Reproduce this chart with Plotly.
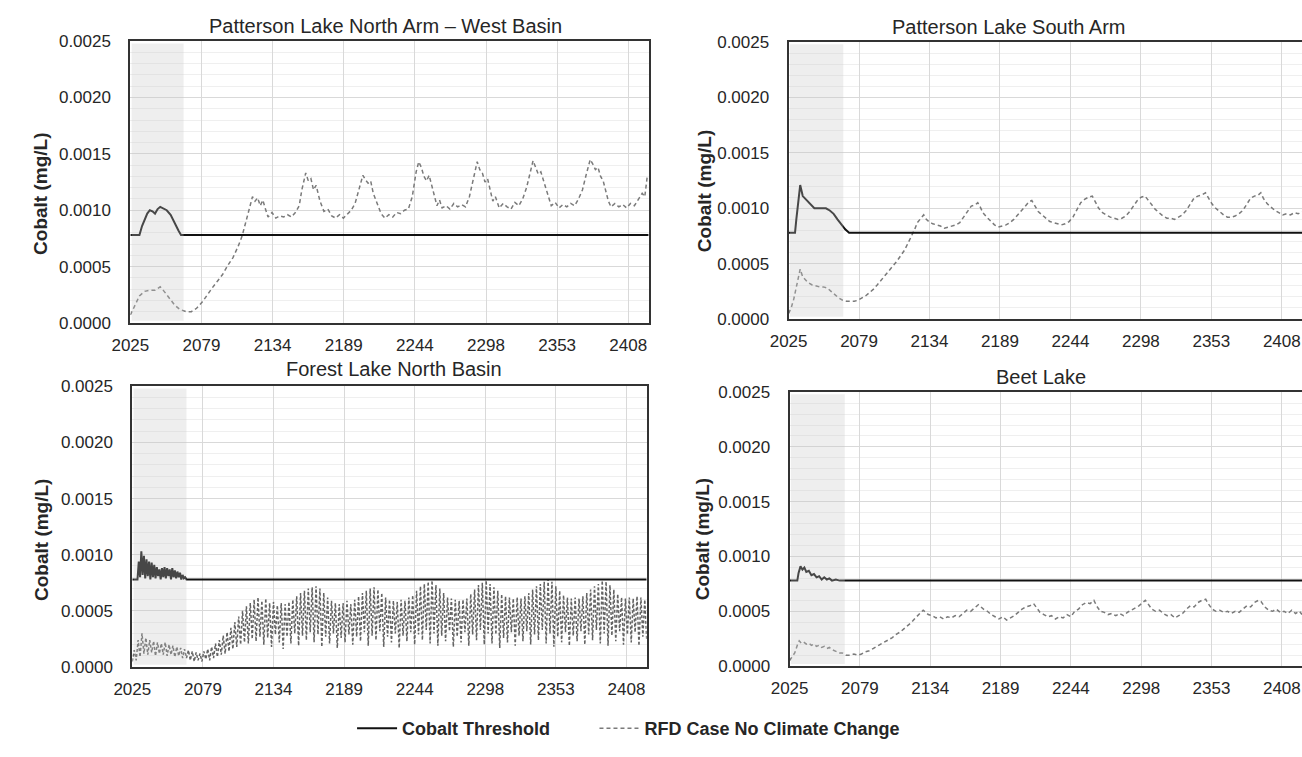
import numpy as np
import plotly.graph_objects as go

# ---------------- data ----------------
x_tick_vals = [2025, 2079.76, 2134.51, 2189.27, 2244.03, 2298.79, 2353.54, 2408.30]
x_tick_text = ["2025", "2079", "2134", "2189", "2244", "2298", "2353", "2408"]
y_tick_vals = [0.0, 0.0005, 0.0010, 0.0015, 0.0020, 0.0025]
panel_titles = ["Patterson Lake North Arm \u2013 West Basin", "Patterson Lake South Arm",
                "Forest Lake North Basin", "Beet Lake"]
series_names = ["Cobalt Threshold", "RFD Case No Climate Change"]
shade_end = [2066, 2067.5, 2067, 2068]

# Patterson Lake North Arm - West Basin
tl_thr_t = [2025, 2032, 2034, 2036, 2038, 2040, 2042, 2044, 2046, 2048, 2050, 2053, 2056, 2058, 2060, 2062, 2064, 2424]
tl_thr_v = [0.00078, 0.00078, 0.00086, 0.00092, 0.00097, 0.00100, 0.00099, 0.00097, 0.00101, 0.00103, 0.00102,
            0.00100, 0.00096, 0.00091, 0.00086, 0.00082, 0.00078, 0.00078]
tl_rfd_t = [2025, 2028, 2032, 2036, 2040, 2044, 2048, 2051, 2055, 2059, 2063, 2068, 2072, 2076, 2080, 2084, 2088,
            2092, 2096, 2100, 2104, 2108, 2111, 2114, 2117, 2119, 2121, 2123, 2125, 2127, 2129, 2131, 2134, 2137,
            2140, 2143, 2146, 2149, 2152, 2155, 2157, 2160, 2162, 2164, 2166, 2168, 2171, 2174, 2177, 2180, 2183,
            2186, 2189, 2192, 2195, 2198, 2201, 2204, 2206, 2208, 2210, 2212, 2215, 2218, 2221, 2224, 2227, 2230,
            2233, 2236, 2239, 2242, 2245, 2247, 2249, 2251, 2253, 2255, 2257, 2259, 2261, 2263, 2265, 2268, 2271,
            2274, 2277, 2280, 2283, 2286, 2289, 2292, 2294, 2296, 2298, 2300, 2302, 2304, 2306, 2309, 2312, 2315,
            2318, 2321, 2324, 2327, 2330, 2333, 2335, 2337, 2339, 2341, 2343, 2345, 2347, 2349, 2352, 2355, 2358,
            2361, 2364, 2367, 2370, 2373, 2376, 2379, 2381, 2383, 2385, 2387, 2389, 2391, 2393, 2395, 2398, 2401,
            2404, 2407, 2410, 2413, 2416, 2419, 2421, 2423]
tl_rfd_v = [0.00007, 0.00015, 0.00024, 0.00028, 0.00029, 0.00029, 0.00032, 0.00028, 0.00022, 0.00016, 0.00012,
            0.00010, 0.00010, 0.00013, 0.00018, 0.00025, 0.00031, 0.00037, 0.00043, 0.00051, 0.00058, 0.00068,
            0.00077, 0.00090, 0.00104, 0.00112, 0.00108, 0.00111, 0.00104, 0.00109, 0.00101, 0.00094, 0.00098,
            0.00093, 0.00095, 0.00094, 0.00096, 0.00094, 0.00098, 0.00104, 0.00118, 0.00133, 0.00126, 0.00128,
            0.00118, 0.00122, 0.00108, 0.00099, 0.00101, 0.00095, 0.00093, 0.00096, 0.00093, 0.00097, 0.00100,
            0.00106, 0.00118, 0.00131, 0.00127, 0.00124, 0.00126, 0.00115, 0.00106, 0.00097, 0.00093, 0.00096,
            0.00094, 0.00098, 0.00097, 0.00100, 0.00101, 0.00112, 0.00134, 0.00143, 0.00138, 0.00130, 0.00126,
            0.00131, 0.00122, 0.00112, 0.00104, 0.00109, 0.00102, 0.00104, 0.00101, 0.00106, 0.00103, 0.00105,
            0.00103, 0.00112, 0.00128, 0.00143, 0.00136, 0.00133, 0.00125, 0.00128, 0.00118, 0.00108, 0.00112,
            0.00102, 0.00106, 0.00103, 0.00101, 0.00107, 0.00104, 0.00110, 0.00120, 0.00135, 0.00144, 0.00138,
            0.00132, 0.00134, 0.00126, 0.00118, 0.00112, 0.00104, 0.00107, 0.00102, 0.00105, 0.00103, 0.00106,
            0.00104, 0.00110, 0.00118, 0.00132, 0.00145, 0.00141, 0.00136, 0.00138, 0.00130, 0.00126, 0.00116,
            0.00108, 0.00103, 0.00106, 0.00103, 0.00105, 0.00102, 0.00106, 0.00104, 0.00110, 0.00115, 0.00112,
            0.00131]

# Patterson Lake South Arm
tr_thr_t = [2025, 2030, 2031, 2033, 2034, 2036, 2039, 2042, 2045, 2050, 2054, 2057, 2060, 2063, 2066, 2069, 2072, 2424]
tr_thr_v = [0.00078, 0.00078, 0.00090, 0.00115, 0.00121, 0.00111, 0.00107, 0.00104, 0.00100, 0.00100, 0.00100,
            0.00098, 0.00095, 0.00090, 0.00085, 0.00081, 0.00078, 0.00078]
tr_rfd_t = [2025, 2027, 2029, 2031, 2033, 2034, 2036, 2038, 2040, 2043, 2046, 2049, 2052, 2055, 2058, 2061, 2064,
            2067, 2070, 2073, 2076, 2079, 2082, 2085, 2088, 2091, 2094, 2097, 2100, 2103, 2106, 2109, 2112, 2115,
            2118, 2121, 2123, 2125, 2128, 2130, 2132, 2134, 2137, 2140, 2143, 2146, 2149, 2152, 2155, 2158, 2161,
            2164, 2167, 2170, 2172, 2174, 2176, 2179, 2182, 2185, 2188, 2191, 2194, 2197, 2200, 2203, 2206, 2209,
            2212, 2214, 2216, 2219, 2222, 2225, 2228, 2231, 2234, 2237, 2240, 2243, 2246, 2249, 2252, 2255, 2258,
            2261, 2263, 2266, 2269, 2272, 2275, 2278, 2281, 2284, 2287, 2290, 2293, 2296, 2299, 2302, 2304, 2307,
            2310, 2313, 2316, 2319, 2322, 2325, 2328, 2331, 2334, 2337, 2340, 2343, 2346, 2349, 2351, 2354, 2357,
            2360, 2363, 2366, 2369, 2372, 2375, 2378, 2381, 2384, 2387, 2390, 2392, 2394, 2397, 2400, 2403, 2406,
            2409, 2412, 2415, 2418, 2421, 2424]
tr_rfd_v = [0.00005, 0.00010, 0.00018, 0.00030, 0.00042, 0.00045, 0.00038, 0.00035, 0.00033, 0.00031, 0.00030,
            0.00029, 0.00029, 0.00028, 0.00025, 0.00022, 0.00019, 0.00017, 0.00016, 0.00016, 0.00016, 0.00017,
            0.00019, 0.00021, 0.00024, 0.00027, 0.00031, 0.00035, 0.00039, 0.00043, 0.00047, 0.00052, 0.00057,
            0.00062, 0.00069, 0.00076, 0.00081, 0.00087, 0.00091, 0.00094, 0.00090, 0.00088, 0.00086, 0.00085,
            0.00084, 0.00082, 0.00083, 0.00084, 0.00085, 0.00087, 0.00092, 0.00098, 0.00102, 0.00103, 0.00105,
            0.00101, 0.00096, 0.00092, 0.00088, 0.00085, 0.00083, 0.00084, 0.00085, 0.00087, 0.00090, 0.00094,
            0.00098, 0.00103, 0.00106, 0.00107, 0.00103, 0.00097, 0.00094, 0.00091, 0.00088, 0.00087, 0.00086,
            0.00085, 0.00086, 0.00088, 0.00092, 0.00098, 0.00105, 0.00108, 0.00110, 0.00111, 0.00106, 0.00100,
            0.00096, 0.00094, 0.00092, 0.00091, 0.00090, 0.00091, 0.00093, 0.00097, 0.00102, 0.00107, 0.00110,
            0.00111, 0.00108, 0.00103, 0.00099, 0.00096, 0.00093, 0.00091, 0.00091, 0.00090, 0.00092, 0.00094,
            0.00098, 0.00104, 0.00109, 0.00111, 0.00112, 0.00114, 0.00110, 0.00104, 0.00100, 0.00097, 0.00094,
            0.00092, 0.00092, 0.00093, 0.00095, 0.00098, 0.00103, 0.00109, 0.00111, 0.00112, 0.00114, 0.00109,
            0.00104, 0.00101, 0.00098, 0.00096, 0.00094, 0.00095, 0.00094, 0.00096, 0.00095, 0.00097]

# Forest Lake North Basin (rapidly oscillating series, sampled every 1.5 years from 2025)
bl_thr_t = [2025, 2029, 2030, 2031, 2032, 2033, 2034, 2035, 2036, 2037, 2038, 2039, 2040, 2041, 2042, 2043, 2044,
            2045, 2046, 2047, 2048, 2049, 2050, 2051, 2052, 2053, 2054, 2055, 2056, 2057, 2058, 2059, 2060, 2061,
            2062, 2063, 2064, 2065, 2066, 2067, 2424]
bl_thr_v = [0.00078, 0.00078, 0.00094, 0.00080, 0.00103, 0.00082, 0.00099, 0.00079, 0.00096, 0.00081, 0.00094,
            0.00078, 0.00093, 0.00080, 0.00091, 0.00079, 0.00089, 0.00081, 0.00087, 0.00078, 0.00088, 0.00080,
            0.00089, 0.00079, 0.00088, 0.00081, 0.00087, 0.00078, 0.00088, 0.00080, 0.00086, 0.00079, 0.00085,
            0.00080, 0.00084, 0.00078, 0.00082, 0.00079, 0.00080, 0.00078, 0.00078]
bl_rfd_start = 2025
bl_rfd_step = 1.5
bl_rfd_v = [
    0.00005, 0.00015, 0.00006, 0.00024, 0.00009, 0.00030, 0.00012, 0.00026, 0.00011, 0.00024,
    0.00013, 0.00023, 0.00010, 0.00022, 0.00012, 0.00021, 0.00011, 0.00022, 0.00010, 0.00020,
    0.00011, 0.00019, 0.00009, 0.00018, 0.00010, 0.00017, 0.00008, 0.00016, 0.00008, 0.00015,
    0.00006, 0.00014, 0.00005, 0.00013, 0.00006, 0.00012, 0.00005, 0.00014, 0.00007, 0.00016,
    0.00006, 0.00018, 0.00008, 0.00021, 0.00009, 0.00024, 0.00011, 0.00028, 0.00012, 0.00031,
    0.00014, 0.00035, 0.00016, 0.00040, 0.00018, 0.00045, 0.00020, 0.00050, 0.00022, 0.00054,
    0.00021, 0.00057, 0.00025, 0.00060, 0.00023, 0.00062, 0.00027, 0.00059, 0.00020, 0.00061,
    0.00026, 0.00057, 0.00018, 0.00058, 0.00029, 0.00055, 0.00022, 0.00057, 0.00016, 0.00056,
    0.00027, 0.00058, 0.00021, 0.00060, 0.00030, 0.00063, 0.00019, 0.00066, 0.00028, 0.00068,
    0.00024, 0.00070, 0.00031, 0.00071, 0.00022, 0.00072, 0.00029, 0.00070, 0.00018, 0.00066,
    0.00027, 0.00062, 0.00021, 0.00059, 0.00030, 0.00057, 0.00017, 0.00056, 0.00026, 0.00057,
    0.00022, 0.00059, 0.00029, 0.00056, 0.00020, 0.00060, 0.00027, 0.00063, 0.00023, 0.00066,
    0.00031, 0.00068, 0.00019, 0.00070, 0.00028, 0.00071, 0.00024, 0.00069, 0.00032, 0.00066,
    0.00018, 0.00062, 0.00027, 0.00060, 0.00022, 0.00059, 0.00030, 0.00058, 0.00017, 0.00060,
    0.00028, 0.00059, 0.00023, 0.00062, 0.00031, 0.00064, 0.00020, 0.00068, 0.00029, 0.00072,
    0.00024, 0.00074, 0.00033, 0.00076, 0.00021, 0.00077, 0.00030, 0.00073, 0.00019, 0.00070,
    0.00028, 0.00066, 0.00023, 0.00062, 0.00032, 0.00061, 0.00018, 0.00060, 0.00027, 0.00059,
    0.00022, 0.00060, 0.00031, 0.00061, 0.00019, 0.00065, 0.00029, 0.00069, 0.00024, 0.00073,
    0.00033, 0.00075, 0.00020, 0.00077, 0.00030, 0.00074, 0.00021, 0.00071, 0.00029, 0.00068,
    0.00017, 0.00065, 0.00026, 0.00063, 0.00022, 0.00062, 0.00031, 0.00061, 0.00019, 0.00062,
    0.00028, 0.00061, 0.00023, 0.00063, 0.00032, 0.00066, 0.00020, 0.00069, 0.00029, 0.00072,
    0.00024, 0.00074, 0.00033, 0.00076, 0.00021, 0.00078, 0.00030, 0.00076, 0.00018, 0.00072,
    0.00027, 0.00068, 0.00022, 0.00064, 0.00031, 0.00062, 0.00019, 0.00061, 0.00028, 0.00062,
    0.00023, 0.00061, 0.00032, 0.00063, 0.00020, 0.00066, 0.00029, 0.00069, 0.00024, 0.00072,
    0.00033, 0.00074, 0.00021, 0.00077, 0.00030, 0.00076, 0.00019, 0.00073, 0.00028, 0.00069,
    0.00023, 0.00065, 0.00032, 0.00062, 0.00020, 0.00061, 0.00029, 0.00062, 0.00022, 0.00061,
    0.00031, 0.00063, 0.00019, 0.00062, 0.00027, 0.00060, 0.00025]

# Beet Lake
br_thr_t = [2025, 2031, 2032, 2033.5, 2035, 2036.5, 2038, 2040, 2042, 2044, 2046, 2048, 2050, 2052, 2054, 2056,
            2058, 2061, 2064, 2424]
br_thr_v = [0.00078, 0.00078, 0.00085, 0.00091, 0.00088, 0.00090, 0.00086, 0.00087, 0.00083, 0.00084, 0.00081,
            0.00082, 0.00079, 0.00081, 0.00079, 0.00080, 0.00078, 0.00079, 0.00078, 0.00078]
br_rfd_t = [2025, 2027, 2029, 2031, 2032.5, 2034, 2036, 2038, 2040, 2042, 2044, 2046, 2048, 2050, 2052, 2054,
            2056, 2058, 2060, 2062, 2064, 2066, 2069, 2072, 2075, 2078, 2081, 2084, 2087, 2090, 2093, 2096, 2099,
            2102, 2105, 2108, 2111, 2114, 2117, 2120, 2123, 2126, 2129, 2131, 2133, 2136, 2139, 2142, 2145, 2148,
            2151, 2154, 2157, 2160, 2163, 2166, 2169, 2172, 2174, 2176, 2179, 2182, 2185, 2188, 2191, 2194, 2197,
            2200, 2203, 2206, 2209, 2212, 2215, 2217, 2220, 2223, 2226, 2229, 2232, 2235, 2238, 2241, 2244, 2247,
            2250, 2253, 2256, 2259, 2262, 2264, 2267, 2270, 2273, 2276, 2279, 2282, 2285, 2288, 2291, 2294, 2297,
            2300, 2302, 2304, 2307, 2310, 2313, 2316, 2319, 2322, 2325, 2328, 2331, 2334, 2337, 2340, 2343, 2346,
            2349, 2351, 2354, 2357, 2360, 2363, 2366, 2369, 2372, 2375, 2378, 2381, 2384, 2387, 2390, 2392, 2395,
            2398, 2401, 2404, 2407, 2410, 2413, 2416, 2419, 2422, 2424]
br_rfd_v = [0.00005, 0.00008, 0.00012, 0.00019, 0.00023, 0.00021, 0.00022, 0.00020, 0.00021, 0.00019, 0.00020,
            0.00018, 0.00019, 0.00017, 0.00018, 0.00016, 0.00017, 0.00015, 0.00014, 0.00013, 0.00012, 0.00012,
            0.00010, 0.00010, 0.00011, 0.00010, 0.00011, 0.00013, 0.00014, 0.00016, 0.00018, 0.00020, 0.00022,
            0.00024, 0.00026, 0.00029, 0.00031, 0.00034, 0.00037, 0.00040, 0.00044, 0.00048, 0.00051, 0.00049,
            0.00047, 0.00046, 0.00044, 0.00045, 0.00043, 0.00045, 0.00044, 0.00046, 0.00045, 0.00048, 0.00051,
            0.00050, 0.00053, 0.00056, 0.00054, 0.00052, 0.00050, 0.00047, 0.00045, 0.00043, 0.00045, 0.00042,
            0.00044, 0.00046, 0.00049, 0.00052, 0.00054, 0.00055, 0.00057, 0.00054, 0.00049, 0.00047, 0.00045,
            0.00046, 0.00043, 0.00045, 0.00044, 0.00047, 0.00045, 0.00050, 0.00052, 0.00056, 0.00058, 0.00057,
            0.00060, 0.00055, 0.00050, 0.00049, 0.00047, 0.00048, 0.00046, 0.00048, 0.00046, 0.00049, 0.00051,
            0.00053, 0.00055, 0.00058, 0.00060, 0.00057, 0.00052, 0.00050, 0.00051, 0.00048, 0.00046, 0.00047,
            0.00044, 0.00046, 0.00048, 0.00052, 0.00055, 0.00054, 0.00058, 0.00060, 0.00061, 0.00057, 0.00052,
            0.00050, 0.00051, 0.00049, 0.00050, 0.00048, 0.00050, 0.00049, 0.00052, 0.00055, 0.00054, 0.00058,
            0.00060, 0.00059, 0.00054, 0.00051, 0.00050, 0.00052, 0.00049, 0.00050, 0.00048, 0.00051, 0.00048,
            0.00050, 0.00047]

bl_rfd_t = bl_rfd_start + bl_rfd_step * np.arange(len(bl_rfd_v))

panels = [
    (tl_thr_t, tl_thr_v, tl_rfd_t, tl_rfd_v),
    (tr_thr_t, tr_thr_v, tr_rfd_t, tr_rfd_v),
    (bl_thr_t, bl_thr_v, list(bl_rfd_t), bl_rfd_v),
    (br_thr_t, br_thr_v, br_rfd_t, br_rfd_v),
]

# ---------------- layout geometry ----------------
W, H = 1302, 757
px_boxes = [  # left, right, top, bottom in pixels
    (113, 639, 33, 322),
    (781, 1302, 34, 318),
    (115, 637, 387, 675),
    (782, 1302, 393, 674),
]
title_pos = [(372, 17), (1004, 18), (381, 369), (1037, 377)]
ytitle_pos = [(22, 190), (695, 187), (23, 545), (693, 544)]

FONT = "Liberation Sans, Arial, sans-serif"
TXT = "#262626"
THR_COLOR = "#111111"
RFD_COLOR = "#7a7a7a"

fig = go.Figure()

for i, (tt, tv, rt, rv) in enumerate(panels):
    xa = "x" if i == 0 else f"x{i+1}"
    ya = "y" if i == 0 else f"y{i+1}"
    dense = (i == 2)
    fig.add_trace(go.Scatter(
        x=rt, y=rv, mode="lines", xaxis=xa, yaxis=ya,
        line=dict(color="#636363" if dense else RFD_COLOR, width=1.5,
                  dash="3px,2px" if dense else "4px,3px"),
        name=series_names[1], legend="legend2", showlegend=(i == 0), hoverinfo="skip"))
    fig.add_trace(go.Scatter(
        x=tt, y=tv, mode="lines", xaxis=xa, yaxis=ya,
        line=dict(color=THR_COLOR, width=2),
        name=series_names[0], legend="legend", showlegend=(i == 0), hoverinfo="skip"))

legend_font = dict(family=FONT, size=18, color=TXT, weight="bold")
layout = dict(
    width=W, height=H,
    margin=dict(l=0, r=0, t=0, b=0),
    paper_bgcolor="white", plot_bgcolor="white",
    font=dict(family=FONT, color=TXT, size=17),
    legend=dict(x=338 / W, xanchor="left", y=1 - 738 / H, yanchor="middle",
                font=legend_font, bgcolor="rgba(0,0,0,0)", itemwidth=40),
    legend2=dict(x=584 / W, xanchor="left", y=1 - 738 / H, yanchor="middle",
                 font=legend_font, bgcolor="rgba(0,0,0,0)", itemwidth=40),
    annotations=[], shapes=[],
)

for i, (l, r, t, b) in enumerate(px_boxes):
    suffix = "" if i == 0 else str(i + 1)
    right_cut = r >= W
    layout["xaxis" + suffix] = dict(
        domain=[l / W, min(r / W, 1.0)], range=[2025, 2424], anchor="y" + suffix,
        tickmode="array", tickvals=x_tick_vals, ticktext=x_tick_text,
        showgrid=True, gridcolor="#d9d9d9", gridwidth=1,
        showline=True, linecolor="#333333", linewidth=2, mirror=True,
        ticks="", ticklabelstandoff=6, zeroline=False,
        tickfont=dict(family=FONT, size=17, color=TXT),
    )
    layout["yaxis" + suffix] = dict(
        domain=[1 - b / H, 1 - t / H], range=[0, 0.0025], anchor="x" + suffix,
        tickmode="array", tickvals=y_tick_vals, tickformat=".4f",
        showgrid=True, gridcolor="#d9d9d9", gridwidth=1,
        minor=dict(dtick=0.0001, showgrid=True, gridcolor="#efefef", gridwidth=1),
        showline=True, linecolor="#333333", linewidth=2, mirror=(not right_cut),
        ticks="", ticklabelstandoff=14, zeroline=False,
        tickfont=dict(family=FONT, size=17, color=TXT),
    )
    layout["shapes"].append(dict(
        type="rect", xref="x" + suffix, yref="y" + suffix,
        x0=2026, x1=shade_end[i], y0=0.00002, y1=0.00248,
        fillcolor="rgba(200,200,200,0.30)", line=dict(width=0), layer="above"))
    tx, ty = title_pos[i]
    layout["annotations"].append(dict(
        text=panel_titles[i], x=tx / W, y=1 - ty / H, xref="paper", yref="paper",
        xanchor="center", yanchor="middle", showarrow=False,
        font=dict(family=FONT, size=20, color=TXT)))
    yx, yy = ytitle_pos[i]
    layout["annotations"].append(dict(
        text="Cobalt (mg/L)", x=yx / W, y=1 - yy / H, xref="paper", yref="paper",
        xanchor="center", yanchor="middle", showarrow=False, textangle=-90,
        font=dict(family=FONT, size=19, color=TXT, weight="bold")))

fig.update_layout(**layout)
fig.write_html("out.html", config={"displayModeBar": False, "staticPlot": True},
               post_script="document.body.style.margin='0px';")
